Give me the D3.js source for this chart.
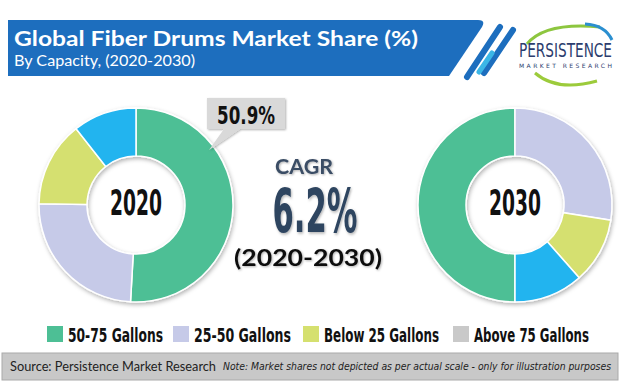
<!DOCTYPE html>
<html><head><meta charset="utf-8">
<script src="https://cdn.jsdelivr.net/npm/d3@7/dist/d3.min.js"></script>
<style>html,body{margin:0;padding:0;background:#fff}svg{display:block}</style>
</head><body>
<script>
const categories = ["50-75 Gallons","25-50 Gallons","Below 25 Gallons","Above 75 Gallons"];
const share2020 = [50.9, 24.3, 14.2, 10.6];
const share2030 = [50.0, 27.5, 11.0, 11.5];
const years = ["2020","2030"];
const sliceColors = ["#4dbf95","#c6cae8","#d5e06f","#22b4ef"];
const legendColors = ["#4dbf95","#c6cae8","#d5e06f","#c9c9c9"];
const cagrLabel = "CAGR", cagrValue = "6.2%", cagrPeriod = "(2020-2030)";
const calloutText = "50.9%";

const W=620,H=383;
const COND="'Liberation Sans Narrow','DejaVu Sans Condensed',sans-serif";
const svg=d3.select("body").append("svg").attr("width",W).attr("height",H);
const defs=svg.append("defs");
const f=defs.append("filter").attr("id","sh").attr("x","-20%").attr("y","-20%").attr("width","140%").attr("height","140%");
f.append("feDropShadow").attr("dx",1).attr("dy",2).attr("stdDeviation",2.2).attr("flood-color","#000").attr("flood-opacity",0.3);
const f2=defs.append("filter").attr("id","sh2").attr("x","-20%").attr("y","-20%").attr("width","140%").attr("height","140%");
f2.append("feDropShadow").attr("dx",1).attr("dy",1).attr("stdDeviation",1).attr("flood-color","#000").attr("flood-opacity",0.3);

// tall condensed text: drawn at size s, stretched vertically by k around its baseline
function tallText(parent,x,y,str,s,k,len,anchor,fill,weight){
  const g=parent.append("g").attr("transform",`translate(${x},${y}) scale(1,${k})`);
  const t=g.append("text").attr("x",0).attr("y",0).attr("text-anchor",anchor||"start")
    .attr("font-family",COND).attr("font-weight",weight||"bold").attr("font-size",s).attr("fill",fill||"#111").text(str);
  if(len) t.attr("textLength",len).attr("lengthAdjust","spacingAndGlyphs");
  return g;
}

// Banner
svg.append("path").attr("d","M8,20 L478,20 Q486,20 482,27 L449,76 L8,76 Z").attr("fill","#1d6ebe");
svg.append("line").attr("x1",500).attr("y1",27).attr("x2",467).attr("y2",77).attr("stroke","#1d6ebe").attr("stroke-width",6).attr("stroke-linecap","round");
svg.append("line").attr("x1",513).attr("y1",30).attr("x2",484).attr("y2",73).attr("stroke","#1d6ebe").attr("stroke-width",6).attr("stroke-linecap","round");
svg.append("line").attr("x1",492).attr("y1",53).attr("x2",479).attr("y2",72).attr("stroke","#3bb6e6").attr("stroke-width",5).attr("stroke-linecap","round");
svg.append("text").attr("x",14).attr("y",46).attr("fill","#fff").attr("font-family","Lato, 'Open Sans', sans-serif").attr("font-weight","bold").attr("font-size",21)
  .attr("textLength",404).attr("lengthAdjust","spacingAndGlyphs").text("Global Fiber Drums Market Share (%)");
svg.append("text").attr("x",14).attr("y",66).attr("fill","#fff").attr("font-family","Lato, 'Open Sans', sans-serif").attr("font-size",15)
  .attr("textLength",181).attr("lengthAdjust","spacingAndGlyphs").text("By Capacity, (2020-2030)");

// Logo
svg.append("path").attr("d","M527,44 Q545,22 600,27").attr("fill","none").attr("stroke","#8dc63f").attr("stroke-width",3);
svg.append("path").attr("d","M585,24 Q605,25 612,40").attr("fill","none").attr("stroke","#2b8fd0").attr("stroke-width",3);
svg.append("path").attr("d","M535,73 Q557,92 597,81").attr("fill","none").attr("stroke","#9ccb3b").attr("stroke-width",3);
tallText(svg,519,57,"PERSISTENCE",14,1.4,93,"start","#2c3d6e","normal");
svg.append("text").attr("x",519).attr("y",68).attr("fill","#2c3d6e").attr("font-family","'DejaVu Sans',sans-serif").attr("font-size",6)
  .attr("textLength",93).attr("lengthAdjust","spacing").text("MARKET RESEARCH");

// Donuts
const pie=d3.pie().sort(null).value(d=>d);
const arc=d3.arc().innerRadius(49).outerRadius(97);
const centers=[[136,205],[515,205]];
const datasets=[share2020,share2030];
const starts=[0,Math.PI];
datasets.forEach((ds,i)=>{
  const g=svg.append("g").attr("transform",`translate(${centers[i]})`);
  const p=pie.startAngle(starts[i]).endAngle(starts[i]+2*Math.PI);
  const gs=g.append("g").attr("filter","url(#sh)");
  gs.selectAll("path").data(p(ds)).join("path").attr("d",arc).attr("fill",(d,j)=>sliceColors[j]).attr("stroke","#fff").attr("stroke-width",1.5);
  tallText(g,0,10,years[i],25,1.4,52,"middle","#111");
});

// Callout
svg.append("path").attr("d","M207,98 L285,98 L285,129 L240,129 L209,150 L224,129 L207,129 Z").attr("fill","#d9d9d9").attr("filter","url(#sh2)");
tallText(svg,246,124,calloutText,19,1.35,58,"middle","#111");

// CAGR
svg.append("text").attr("x",304).attr("y",174).attr("text-anchor","middle").attr("font-family","Lato,'Open Sans',sans-serif").attr("font-weight","bold").attr("font-size",20)
  .attr("textLength",58).attr("lengthAdjust","spacingAndGlyphs").attr("fill","#3b4d65").attr("filter","url(#sh2)").text(cagrLabel);
tallText(svg,315,232,cagrValue,40,1.5,85,"middle","#2e4560").attr("filter","url(#sh2)");
svg.append("text").attr("x",308).attr("y",266).attr("text-anchor","middle").attr("font-family","Lato,'Open Sans',sans-serif").attr("font-weight","bold").attr("font-size",22)
  .attr("textLength",148).attr("lengthAdjust","spacingAndGlyphs").attr("fill","#111").attr("filter","url(#sh2)").text(cagrPeriod);

// Legend
const legX=[47,173,303,453], legW=[95,97,115,115];
const lg=svg.append("g");
categories.forEach((c,i)=>{
  lg.append("rect").attr("x",legX[i]).attr("y",326).attr("width",16).attr("height",16).attr("fill",legendColors[i]);
  tallText(lg,legX[i]+21,342,c,15,1.3,legW[i],"start","#111");
});

// Footer
svg.append("rect").attr("x",2).attr("y",353).attr("width",616).attr("height",27).attr("fill","#c8c8c8").attr("stroke","#aaa").attr("stroke-width",1);
svg.append("text").attr("x",10).attr("y",371).attr("font-family","Lato,'Open Sans',sans-serif").attr("font-size",13).attr("fill","#222")
  .attr("textLength",206).attr("lengthAdjust","spacingAndGlyphs").text("Source: Persistence Market Research");
svg.append("text").attr("x",223).attr("y",370).attr("font-family",COND).attr("font-style","italic").attr("font-size",10.5).attr("fill","#222")
  .attr("textLength",388).attr("lengthAdjust","spacingAndGlyphs").text("Note: Market shares not depicted as per actual scale - only for illustration purposes");
</script>
</body></html>
